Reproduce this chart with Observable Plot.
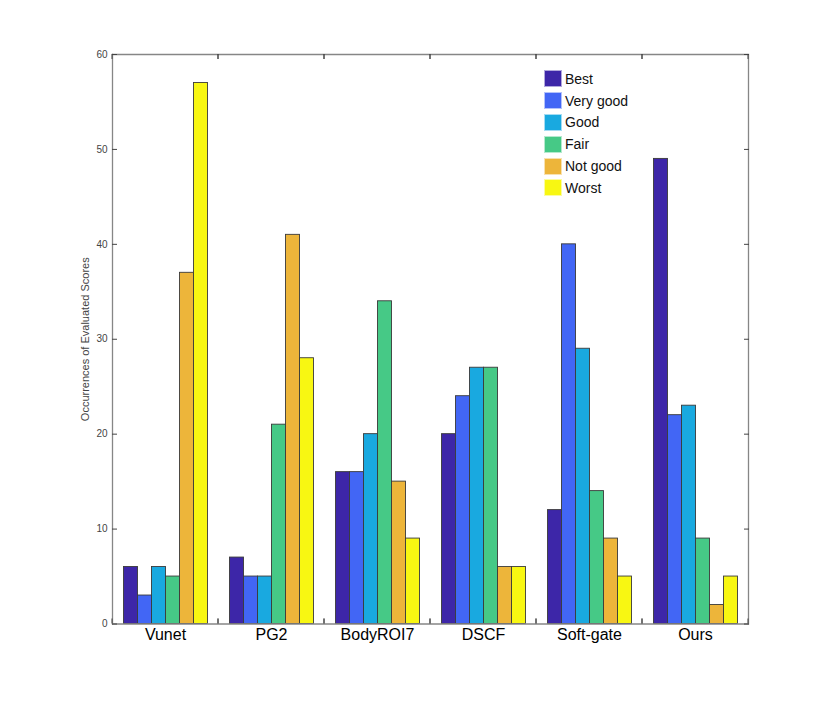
<!DOCTYPE html>
<html><head><meta charset="utf-8">
<script src="https://cdn.jsdelivr.net/npm/d3@7"></script>
<script src="https://cdn.jsdelivr.net/npm/@observablehq/plot@0.6"></script>
<style>
body{margin:0;background:#fff;font-family:"Liberation Sans",Arial,Helvetica,sans-serif;}
#wrap{position:relative;width:831px;height:716px;}
#legend{position:absolute;left:544px;top:68px;}
.row{display:flex;align-items:center;height:21.8px;font-size:14px;color:#111;}
.sw{width:18px;height:17px;margin-right:3px;box-sizing:border-box;border:1px solid rgba(255,255,255,0.6);}
</style>
</head><body><div id="wrap"></div>
<script>
const groups = ["Vunet","PG2","BodyROI7","DSCF","Soft-gate","Ours"];
const scores = ["Best","Very good","Good","Fair","Not good","Worst"];
const best     = [6, 7, 16, 20, 12, 49];
const veryGood = [3, 5, 16, 24, 40, 22];
const good     = [6, 5, 20, 27, 29, 23];
const fair     = [5, 21, 34, 27, 14, 9];
const notGood  = [37, 41, 15, 6, 9, 2];
const worst    = [57, 28, 9, 6, 5, 5];
const yTicks = [0, 10, 20, 30, 40, 50, 60];
const colors = ["#3d26a8", "#4266f5", "#19a9e0", "#46c986", "#edb53a", "#f8f712"];

const series = [best, veryGood, good, fair, notGood, worst];
const data = groups.flatMap((g, i) => scores.map((s, j) => ({group: g, score: s, value: series[j][i]})));

const axisGray = "#868686";

function boundaryTicks(index, scales, values, dim) {
  const ns = "http://www.w3.org/2000/svg";
  const g = document.createElementNS(ns, "g");
  const r = scales.x.range();
  const top = dim.marginTop, bottom = dim.height - dim.marginBottom;
  for (const x of r) {
    for (const [y0, y1] of [[top, top + 5], [bottom, bottom - 5]]) {
      const l = document.createElementNS(ns, "line");
      l.setAttribute("x1", x); l.setAttribute("x2", x);
      l.setAttribute("y1", y0); l.setAttribute("y2", y1);
      l.setAttribute("stroke", "#444");
      l.setAttribute("stroke-width", 1);
      g.appendChild(l);
    }
  }
  return g;
}

const chart = Plot.plot({
  width: 831,
  height: 716,
  marginLeft: 109.5,
  marginRight: 81.5,
  marginTop: 54,
  marginBottom: 92.5,
  style: {fontFamily: '"Liberation Sans", Arial, Helvetica, sans-serif', background: "#fff"},
  fx: {domain: groups, padding: 0, label: null, axis: null},
  x: {domain: scores, paddingInner: 0, paddingOuter: 0.72, axis: null},
  y: {domain: [0, 60], axis: null},
  color: {domain: scores, range: colors},
  marks: [
    Plot.barY(data, {fx: "group", x: "score", y: "value", fill: "score", stroke: "#3a3a3a", strokeWidth: 0.9}),
    Plot.ruleY([0, 60], {stroke: axisGray, strokeWidth: 1.3}),
    Plot.frame({anchor: "left", facetAnchor: "left", stroke: axisGray, strokeWidth: 1.3}),
    Plot.frame({anchor: "right", facetAnchor: "right", stroke: axisGray, strokeWidth: 1.3}),
    Plot.axisY(yTicks, {anchor: "left", tickSize: -5, tickPadding: 10, fontSize: 10, stroke: "#444", fill: "#444",
      label: "Occurrences of Evaluated Scores", labelAnchor: "center", labelOffset: 31, labelArrow: "none"}),
    Plot.axisY(yTicks, {anchor: "right", tickSize: -5, tickFormat: () => "", label: null, stroke: "#444"}),
    Plot.axisFx({anchor: "bottom", tickSize: 0, tickPadding: 5, fontSize: 16, fill: "#000", label: null}),
    boundaryTicks
  ]
});

// slightly larger axis title font
chart.querySelectorAll("text").forEach(t => {
  if (t.textContent === "Occurrences of Evaluated Scores") t.setAttribute("font-size", 11);
});

const wrap = document.getElementById("wrap");
wrap.appendChild(chart);
const legend = document.createElement("div");
legend.id = "legend";
scores.forEach((s, i) => {
  const row = document.createElement("div");
  row.className = "row";
  const sw = document.createElement("div");
  sw.className = "sw";
  sw.style.background = colors[i];
  const t = document.createElement("span");
  t.textContent = s;
  row.appendChild(sw); row.appendChild(t);
  legend.appendChild(row);
});
wrap.appendChild(legend);
</script>
</body></html>
